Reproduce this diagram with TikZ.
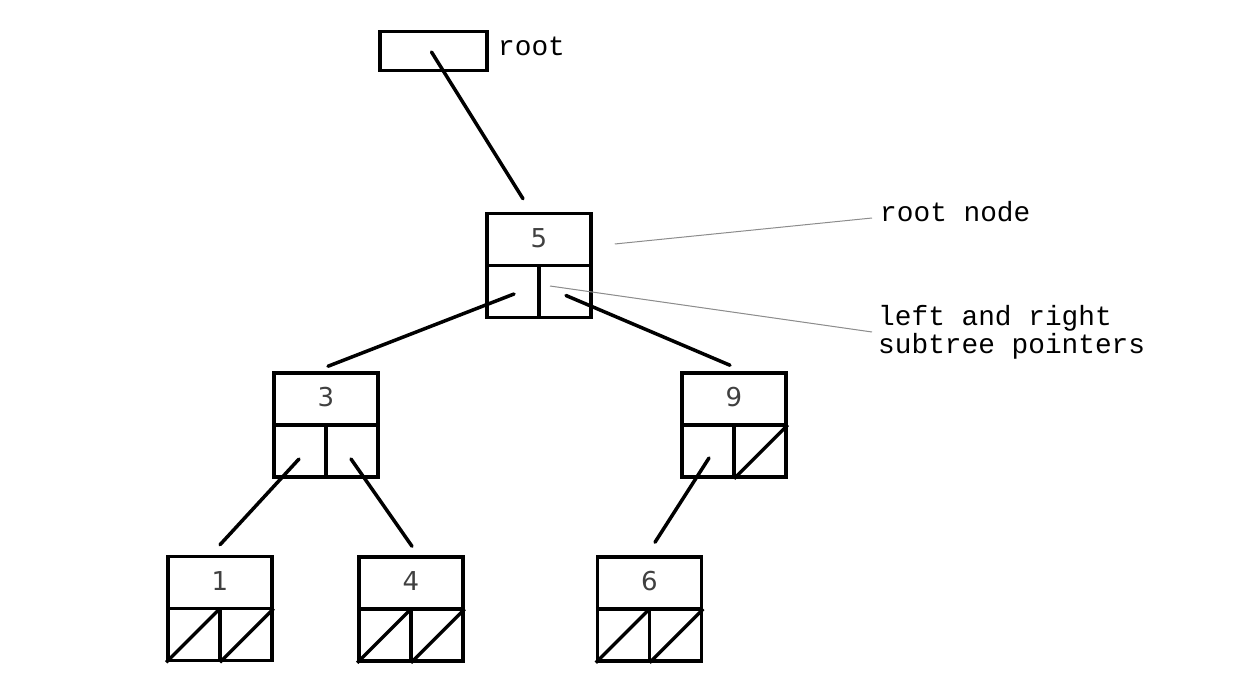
\documentclass[tikz,border=0pt]{standalone}
\usepackage{fontspec}
\setmainfont{Liberation Mono}
\newfontfamily\digitfont{DejaVu Sans}
\usetikzlibrary{calc}
\begin{document}
\begin{tikzpicture}[x=1pt,y=-1pt,
  tnode/.style={draw,line width=3.5pt,minimum width=104pt,minimum height=104pt,inner sep=0pt},
  rootbox/.style={draw,line width=3.5pt,minimum width=107pt,minimum height=39pt,inner sep=0pt},
  div/.style={line width=3.5pt},
  link/.style={line width=3.5pt,line cap=round},
  callout/.style={draw=black!45,line width=1pt},
  val/.style={font=\digitfont\fontsize{26}{26}\selectfont,text=black!75,inner sep=0pt},
  lbl/.style={font=\fontsize{27.8}{28}\selectfont,inner sep=0pt,anchor=base west}
]
\useasboundingbox (0,0) rectangle (1260,698);

% root pointer box
\node[rootbox] (root) at (433.5,51) {};
\node[lbl] (rootlbl) at (498,56) {root};

% tree nodes
\node[tnode] (n5) at (539,265.5) {};
\node[tnode] (n3) at (326,425) {};
\node[tnode] (n9) at (734,425) {};
\node[tnode] (n1) at (220,608.5) {};
\node[tnode] (n4) at (411,609) {};
\node[tnode] (n6) at (649.5,609) {};

\foreach \n in {n5,n3,n9,n1,n4,n6}{
  \draw[div] (\n.west) -- (\n.east);
  \draw[div] (\n.center) -- (\n.south);
}
% null pointers
\draw[div] (n9.south) -- (n9.east);
\foreach \n in {n1,n4,n6}{
  \draw[div] (\n.south west) -- (\n.center);
  \draw[div] (\n.south) -- (\n.east);
}

% values
\node[val] (v5) at ($(n5.north)+(0,26)$) {5};
\node[val] (v3) at ($(n3.north)+(0,26)$) {3};
\node[val] (v9) at ($(n9.north)+(0,26)$) {9};
\node[val] (v1) at ($(n1.north)+(0,26)$) {1};
\node[val] (v4) at ($(n4.north)+(0,26)$) {4};
\node[val] (v6) at ($(n6.north)+(0,26)$) {6};

% links
\coordinate (r0) at ($(root.center)+(-2,1)$);
\coordinate (r1) at ($(n5.north)+(-16,-13)$);
\draw[link] (r0) -- (r1);

\coordinate (a0) at ($(n5.center)+(-25,28.5)$);
\coordinate (a1) at ($(n3.north)+(2,-5)$);
\draw[link] (a0) -- (a1);

\coordinate (b0) at ($(n5.center)+(27,30)$);
\coordinate (b1) at ($(n9.north)+(-4,-6)$);
\draw[link] (b0) -- (b1);

\coordinate (c0) at ($(n3.center)+(-27,34)$);
\coordinate (c1) at ($(n1.north)+(0,-10)$);
\draw[link] (c0) -- (c1);

\coordinate (d0) at ($(n3.center)+(25,34)$);
\coordinate (d1) at ($(n4.north)+(1,-9)$);
\draw[link] (d0) -- (d1);

\coordinate (e0) at ($(n9.center)+(-25,33)$);
\coordinate (e1) at ($(n6.north)+(5.5,-13)$);
\draw[link] (e0) -- (e1);

% callouts
\node[lbl] (rn) at (880,221) {root node};
\node[lbl] (lr1) at (878,325) {left and right};
\node[lbl] (lr2) at (878,353) {subtree pointers};

\coordinate (f0) at ($(n5.east)+(22,-21.5)$);
\coordinate (f1) at ($(rn.base west)+(-8,-3)$);
\draw[callout] (f0) -- (f1);
\coordinate (g0) at ($(n5.center)+(11,20.5)$);
\coordinate (g1) at ($(lr1.base west)+(-6,7)$);
\draw[callout] (g0) -- (g1);
\end{tikzpicture}
\end{document}
